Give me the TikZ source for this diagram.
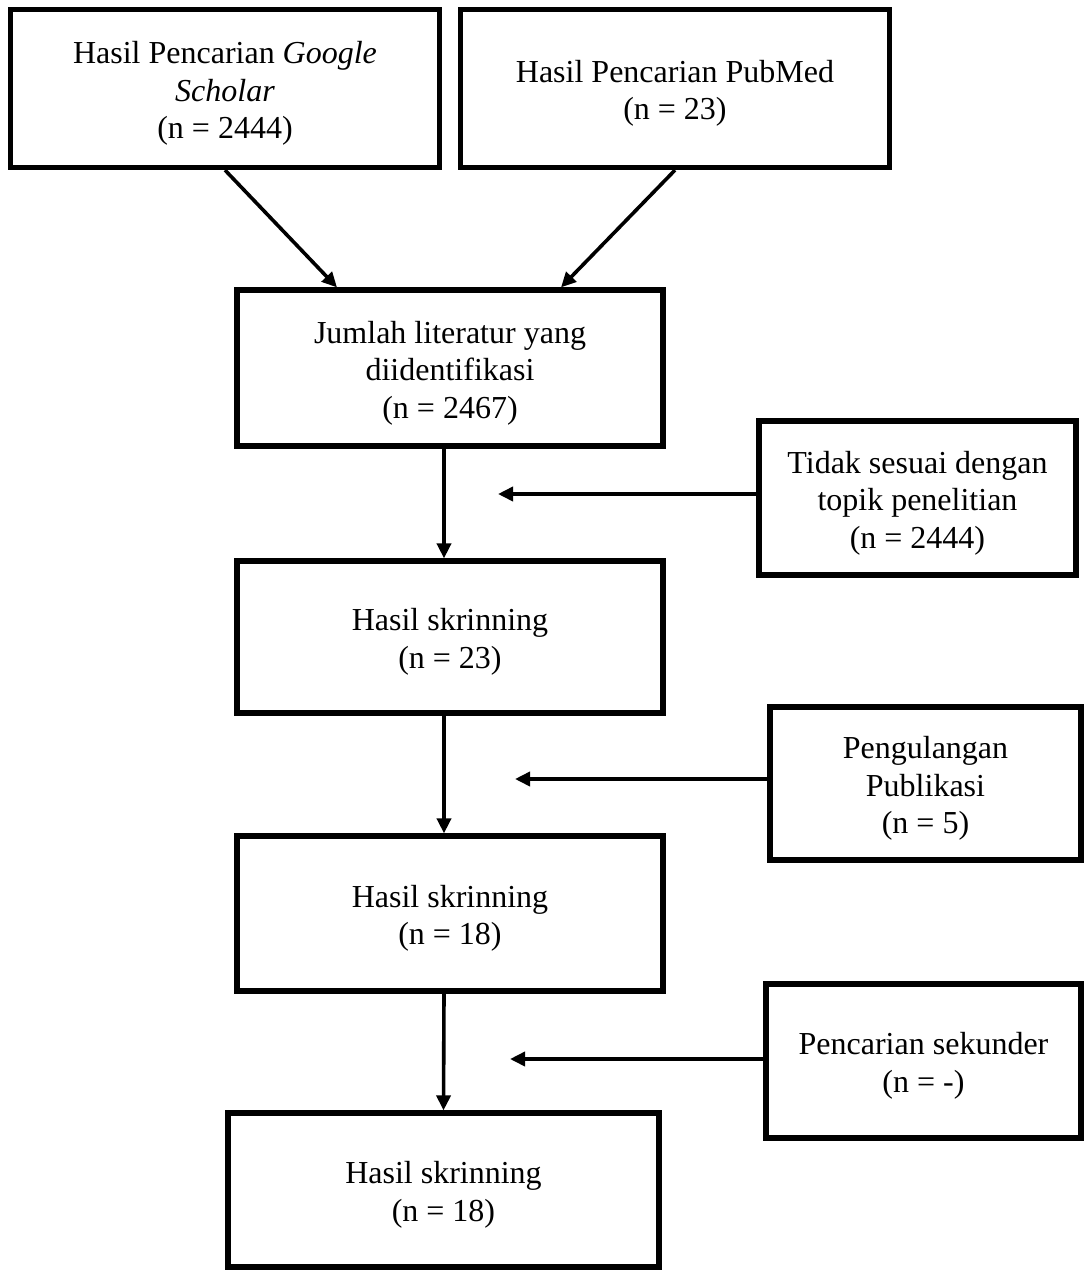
\documentclass[tikz,border=0pt]{standalone}
\usepackage{fontspec}
\setmainfont{Liberation Serif}
\usepackage{tikz}
\usetikzlibrary{arrows.meta,calc,shapes}
\newcommand{\boxlw}{2.6pt}
\newcommand{\arrlw}{1.8pt}
\newcommand{\topgap}{\rule{0pt}{16pt}}

\tikzset{
    BoxStyle/.style = {draw, rectangle, line width=\boxlw, inner sep=0pt, align=center,
                       font=\fontsize{16}{18.75}\selectfont},
    ArrowStyle/.style = {line width=\arrlw, -{Triangle[length=7.5pt,width=7pt]}}
}

\begin{document}
\begin{tikzpicture}[x=0.5pt,y=-0.5pt]
        \useasboundingbox (0,0) rectangle (1084,1270);
        \begin{scope}
        %\draw[help lines] (0,0) grid[step=100] (1084,1270);
            % search results
            \node[BoxStyle, minimum width=214.5pt, minimum height=79pt] (gs) at (225,88.5)
                {\topgap Hasil Pencarian \textit{Google}\\\textit{Scholar}\\(n = 2444)};
            \node[BoxStyle, minimum width=214.5pt, minimum height=79pt] (pm) at (675,88.5)
                {\topgap Hasil Pencarian PubMed\\(n = 23)};

            % main column
            \node[BoxStyle, minimum width=213pt, minimum height=78pt] (jml) at (450,368)
                {\topgap Jumlah literatur yang\\diidentifikasi\\(n = 2467)};
            \node[BoxStyle, minimum width=213pt, minimum height=76pt] (h1) at (450,637)
                {\topgap Hasil skrinning\\(n = 23)};
            \node[BoxStyle, minimum width=213pt, minimum height=77.5pt] (h2) at (450,913.5)
                {\topgap Hasil skrinning\\(n = 18)};
            \node[BoxStyle, minimum width=215.5pt, minimum height=77pt] (h3) at (443.5,1190)
                {\topgap Hasil skrinning\\(n = 18)};

            % side boxes
            \node[BoxStyle, minimum width=158.5pt, minimum height=77pt] (tidak) at (917.5,498)
                {\topgap Tidak sesuai dengan\\topik penelitian\\(n = 2444)};
            \node[BoxStyle, minimum width=155.5pt, minimum height=76.5pt] (peng) at (925.5,783.5)
                {\topgap Pengulangan\\Publikasi\\(n = 5)};
            \node[BoxStyle, minimum width=157.5pt, minimum height=77pt] (penc) at (923.5,1061)
                {\topgap Pencarian sekunder\\(n = -)};

            \coordinate (ta) at (498,494);
            \coordinate (pa) at (515,779);
            \coordinate (sa) at (510,1059);

            \draw[ArrowStyle] (gs.south) -- ($(jml.north)+(-113,0)$);
            \draw[ArrowStyle] (pm.south) -- ($(jml.north)+(111,0)$);

            \draw[ArrowStyle] ([xshift=-3pt]jml.south) -- ([xshift=-3pt]h1.north);
            \draw[ArrowStyle] ([xshift=-3pt]h1.south) -- ([xshift=-3pt]h2.north);
            \draw[ArrowStyle] ([xshift=-3pt]h2.south) -- (h3.north);

            \draw[ArrowStyle] (tidak.west |- ta) -- (ta);
            \draw[ArrowStyle] (peng.west |- pa) -- (pa);
            \draw[ArrowStyle] (penc.west |- sa) -- (sa);
        \end{scope}
    \end{tikzpicture}
\end{document}
